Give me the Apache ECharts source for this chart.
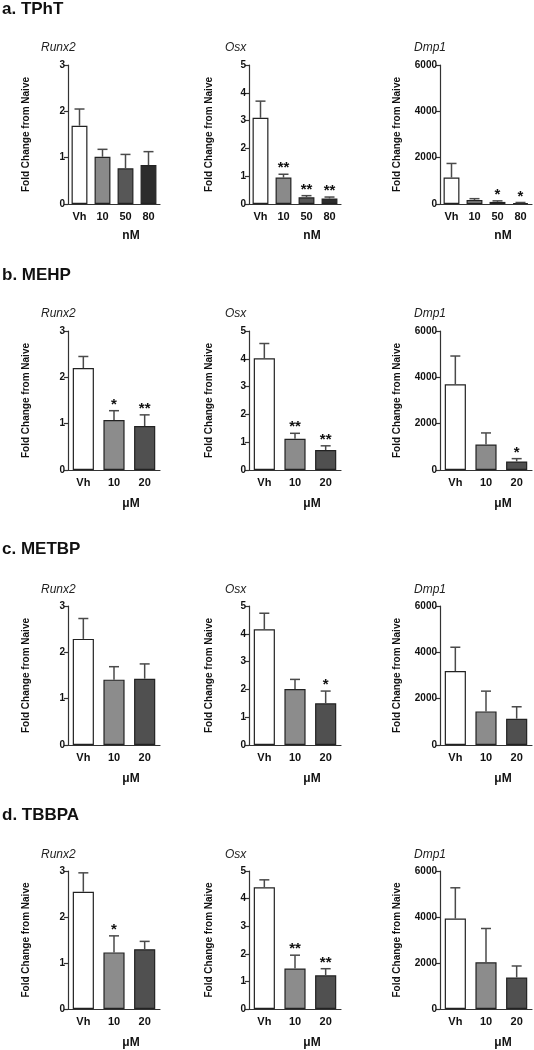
<!DOCTYPE html>
<html>
<head>
<meta charset="utf-8">
<script src="https://cdn.jsdelivr.net/npm/echarts@6/dist/echarts.min.js"></script>
<style>
html,body{margin:0;padding:0;background:#fff;}
#chart{width:534px;height:1050px;}
</style>
</head>
<body>
<div id="chart"></div>
<script>
// ---------- DATA ----------
const panelTitles = ['a. TPhT', 'b. MEHP', 'c. METBP', 'd. TBBPA'];
const geneNames = ['Runx2', 'Osx', 'Dmp1'];
const unitLabels = ['nM', 'μM', 'μM', 'μM'];
const catsNM = ['Vh', '10', '50', '80'];
const catsUM = ['Vh', '10', '20'];

// a. TPhT
const tphtRunx2 = [1.69, 1.02, 0.77, 0.84];
const tphtRunx2Sem = [0.36, 0.16, 0.30, 0.29];
const tphtRunx2Sig = ['', '', '', ''];
const tphtOsx = [3.10, 0.95, 0.24, 0.20];
const tphtOsxSem = [0.60, 0.12, 0.06, 0.05];
const tphtOsxSig = ['', '**', '**', '**'];
const tphtDmp1 = [1140, 170, 90, 45];
const tphtDmp1Sem = [610, 60, 45, 20];
const tphtDmp1Sig = ['', '', '*', '*'];

// b. MEHP
const mehpRunx2 = [2.20, 1.08, 0.95];
const mehpRunx2Sem = [0.25, 0.20, 0.24];
const mehpRunx2Sig = ['', '*', '**'];
const mehpOsx = [4.02, 1.12, 0.72];
const mehpOsxSem = [0.53, 0.20, 0.15];
const mehpOsxSig = ['', '**', '**'];
const mehpDmp1 = [3700, 1100, 370];
const mehpDmp1Sem = [1220, 500, 120];
const mehpDmp1Sig = ['', '', '*'];

// c. METBP
const metbpRunx2 = [2.29, 1.41, 1.43];
const metbpRunx2Sem = [0.44, 0.28, 0.32];
const metbpRunx2Sig = ['', '', ''];
const metbpOsx = [4.16, 2.01, 1.50];
const metbpOsxSem = [0.58, 0.35, 0.44];
const metbpOsxSig = ['', '', '*'];
const metbpDmp1 = [3190, 1450, 1135];
const metbpDmp1Sem = [1030, 875, 515];
const metbpDmp1Sig = ['', '', ''];

// d. TBBPA
const tbbpaRunx2 = [2.55, 1.23, 1.30];
const tbbpaRunx2Sem = [0.41, 0.36, 0.17];
const tbbpaRunx2Sig = ['', '*', ''];
const tbbpaOsx = [4.41, 1.47, 1.22];
const tbbpaOsxSem = [0.27, 0.48, 0.24];
const tbbpaOsxSig = ['', '**', '**'];
const tbbpaDmp1 = [3930, 2030, 1370];
const tbbpaDmp1Sem = [1340, 1470, 500];
const tbbpaDmp1Sig = ['', '', ''];

const yMax = [3, 5, 6000];
const yInterval = [1, 1, 2000];
const yAxisTitle = 'Fold Change from Naive';

// ---------- STYLE / LAYOUT ----------
const FONT = 'Arial, "Liberation Sans", sans-serif';
const colorsNM = ['#ffffff', '#8a8a8a', '#575757', '#2c2c2c'];
const colorsUM = ['#ffffff', '#8c8c8c', '#505050'];
const gridLeft = [68, 249, 440];
const gridTop = [65, 331, 606, 871];
const gridW = 92, gridH = 139;
const titleTop = [1, 267, 541, 807];
const geneTop = [42, 308, 584, 849];
const geneLeft = [41, 225, 414];
const yNameGap = [37, 35, 38];

const rows = [
  {cats: catsNM, colors: colorsNM, means: [tphtRunx2, tphtOsx, tphtDmp1], sems: [tphtRunx2Sem, tphtOsxSem, tphtDmp1Sem], sigs: [tphtRunx2Sig, tphtOsxSig, tphtDmp1Sig]},
  {cats: catsUM, colors: colorsUM, means: [mehpRunx2, mehpOsx, mehpDmp1], sems: [mehpRunx2Sem, mehpOsxSem, mehpDmp1Sem], sigs: [mehpRunx2Sig, mehpOsxSig, mehpDmp1Sig]},
  {cats: catsUM, colors: colorsUM, means: [metbpRunx2, metbpOsx, metbpDmp1], sems: [metbpRunx2Sem, metbpOsxSem, metbpDmp1Sem], sigs: [metbpRunx2Sig, metbpOsxSig, metbpDmp1Sig]},
  {cats: catsUM, colors: colorsUM, means: [tbbpaRunx2, tbbpaOsx, tbbpaDmp1], sems: [tbbpaRunx2Sem, tbbpaOsxSem, tbbpaDmp1Sem], sigs: [tbbpaRunx2Sig, tbbpaOsxSig, tbbpaDmp1Sig]}
];

const grid = [], xAxis = [], yAxis = [], series = [], title = [];
const AXC = '#333333';

rows.forEach((row, r) => {
  title.push({text: panelTitles[r], left: 2, top: titleTop[r], padding: 0,
    textStyle: {fontFamily: FONT, fontSize: 17, fontWeight: 'bold', color: '#111'}});
  for (let c = 0; c < 3; c++) {
    const idx = r * 3 + c;
    title.push({text: geneNames[c], left: geneLeft[c], top: geneTop[r], padding: 0,
      textStyle: {fontFamily: FONT, fontSize: 12, fontStyle: 'italic', fontWeight: 'normal', color: '#222'}});
    grid.push({left: gridLeft[c], top: gridTop[r], width: gridW, height: gridH});
    xAxis.push({
      type: 'category', gridIndex: idx, data: row.cats,
      axisLine: {lineStyle: {color: AXC, width: 1.2}},
      axisTick: {alignWithLabel: true, length: 4, lineStyle: {color: AXC, width: 1.2}},
      axisLabel: {margin: 7, fontFamily: FONT, fontSize: 11, fontWeight: 'bold', color: '#111'},
      name: unitLabels[r], nameLocation: 'middle', nameGap: r === 0 ? 26 : 28,
      nameTextStyle: {fontFamily: FONT, fontSize: 12, fontWeight: 'bold', color: '#111', padding: [0, 0, 0, 34]}
    });
    yAxis.push({
      type: 'value', gridIndex: idx, min: 0, max: yMax[c], interval: yInterval[c],
      splitLine: {show: false},
      axisLine: {show: true, lineStyle: {color: AXC, width: 1.2}},
      axisTick: {show: true, length: 4, lineStyle: {color: AXC, width: 1.2}},
      axisLabel: {margin: 3, fontFamily: FONT, fontSize: 10, fontWeight: 'bold', color: '#111',
        formatter: function (v) { return String(v); }},
      name: yAxisTitle, nameLocation: 'middle', nameGap: yNameGap[c],
      nameTextStyle: {fontFamily: FONT, fontSize: 10, fontWeight: 'bold', color: '#111'}
    });
    const means = row.means[c], sems = row.sems[c], sigs = row.sigs[c];
    series.push({
      type: 'bar', xAxisIndex: idx, yAxisIndex: idx, barCategoryGap: '31%',
      data: means.map((v, i) => ({value: v, itemStyle: {color: row.colors[i], borderColor: '#222', borderWidth: 1.2}})),
      silent: true, z: 2
    });
    series.push({
      type: 'custom', xAxisIndex: idx, yAxisIndex: idx, clip: false, silent: true, z: 3,
      data: means.map((v, i) => [i, v, sems[i]]),
      renderItem: function (params, api) {
        const i = api.value(0), m = api.value(1), s = api.value(2);
        const p0 = api.coord([i, m]);
        const p1 = api.coord([i, m + s]);
        const cap = 5;
        const children = [
          {type: 'line', shape: {x1: p0[0], y1: p0[1], x2: p1[0], y2: p1[1]}, style: {stroke: '#4a4a4a', lineWidth: 1.5}},
          {type: 'line', shape: {x1: p1[0] - cap, y1: p1[1], x2: p1[0] + cap, y2: p1[1]}, style: {stroke: '#4a4a4a', lineWidth: 1.5}}
        ];
        const sig = sigs[params.dataIndex];
        if (sig) {
          children.push({type: 'text', style: {text: sig, x: p1[0], y: p1[1] - 6, align: 'center', verticalAlign: 'middle',
            font: 'bold 15px ' + FONT, fill: '#111'}});
        }
        return {type: 'group', children: children};
      }
    });
  }
});

const chart = echarts.init(document.getElementById('chart'), null, {renderer: 'canvas'});
chart.setOption({backgroundColor: '#ffffff', animation: false, title, grid, xAxis, yAxis, series});
</script>
</body>
</html>
